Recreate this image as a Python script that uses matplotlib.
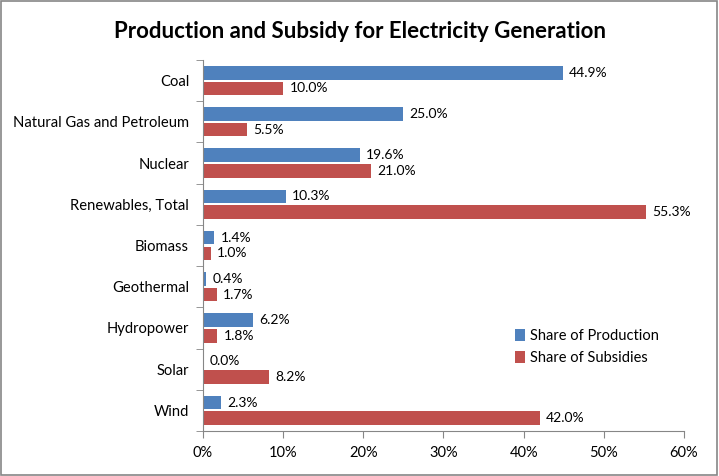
import matplotlib.pyplot as plt
import numpy as np
from matplotlib.patches import Rectangle

plt.rcParams['font.family'] = ['Lato', 'DejaVu Sans']

# Data (percent)
categories = ['Coal', 'Natural Gas and Petroleum', 'Nuclear', 'Renewables, Total',
              'Biomass', 'Geothermal', 'Hydropower', 'Solar', 'Wind']
production = [44.9, 25.0, 19.6, 10.3, 1.4, 0.4, 6.2, 0.0, 2.3]
subsidies = [10.0, 5.5, 21.0, 55.3, 1.0, 1.7, 1.8, 8.2, 42.0]

blue = '#4F81BD'
red = '#C0504D'
gray = '#868686'

fig = plt.figure(figsize=(7.19, 4.76), dpi=100)
ax = fig.add_axes([0.2823, 0.0945, 0.669, 0.7795])

y = np.arange(len(categories))
h = 0.33
b1 = ax.barh(y - 0.19, production, height=h, color=blue, label='Share of Production')
b2 = ax.barh(y + 0.19, subsidies, height=h, color=red, label='Share of Subsidies')

# value labels next to the bars
for rects, vals in ((b1, production), (b2, subsidies)):
    for r, v in zip(rects, vals):
        ax.annotate(f'{v:.1f}%', (v, r.get_y() + r.get_height() / 2),
                    xytext=(4.5, 0), textcoords='offset points',
                    va='center', ha='left', fontsize=10)

ax.set_xlim(0, 60)
ax.set_ylim(len(categories) - 0.5, -0.5)
ax.set_xticks(range(0, 61, 10))
ax.set_xticklabels([f'{t}%' for t in range(0, 61, 10)], fontsize=10.5)
ax.set_yticks(y)
ax.set_yticklabels(categories, fontsize=10.6)
ax.tick_params(axis='y', length=0, pad=10)
ax.set_yticks(np.arange(-0.5, len(categories), 1), minor=True)
ax.tick_params(axis='y', which='minor', length=5, color=gray, direction='out')
ax.tick_params(axis='x', length=5, color=gray, direction='out', pad=6)

for s in ('top', 'right'):
    ax.spines[s].set_visible(False)
for s in ('left', 'bottom'):
    ax.spines[s].set_color(gray)

ax.legend(loc='upper left', bbox_to_anchor=(0.622, 0.31), frameon=False,
          fontsize=10.5, handlelength=0.7, handleheight=0.9, handletextpad=0.3,
          labelspacing=0.55)

fig.suptitle('Production and Subsidy for Electricity Generation', x=0.5, y=0.955,
             fontsize=16, fontweight='bold')

# chart border
fig.patches.append(Rectangle((0.002, 0.003), 0.995, 0.994, transform=fig.transFigure,
                             fill=False, edgecolor=gray, linewidth=1.2))

fig.savefig('out.png', dpi=100)
